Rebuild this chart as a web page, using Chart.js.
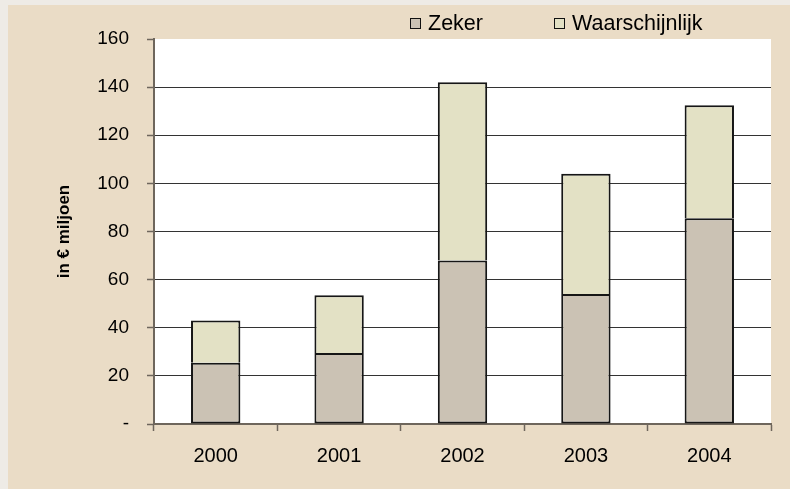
<!DOCTYPE html>
<html>
<head>
<meta charset="utf-8">
<script src="https://cdn.jsdelivr.net/npm/chart.js@4.4.1/dist/chart.umd.min.js"></script>
<style>
  body { margin: 0; background: #eeebe6; font-family: "Liberation Sans", Arial, sans-serif; }
  #wrap { position: absolute; left: 8px; top: 5px; width: 782px; height: 484px; background: #eadcc6; }
  #legend { position: absolute; left: 402px; top: 6px; display: flex; align-items: center; font-size: 21.5px; color: #000; }
  .item { display: flex; align-items: center; margin-right: 71px; }
  .box { width: 9px; height: 9px; border: 1.5px solid #111; margin-right: 7px; }
</style>
</head>
<body>
<div id="wrap">
  <canvas id="myChart" width="782" height="484"></canvas>
  <div id="legend"></div>
</div>
<script>
const years = ["2000", "2001", "2002", "2003", "2004"];
const zeker = [25.5, 29.5, 68, 54, 85.5];
const waarschijnlijk = [17.5, 24, 74, 50, 47];
const yTicks = [0, 20, 40, 60, 80, 100, 120, 140, 160];

const axisColor = "#6e665c";

const plotBackground = {
  id: "plotBackground",
  beforeDraw(chart) {
    const { ctx, chartArea } = chart;
    ctx.save();
    ctx.fillStyle = "#ffffff";
    ctx.fillRect(chartArea.left, chartArea.top, chartArea.right - chartArea.left, chartArea.bottom - chartArea.top);
    ctx.restore();
  },
};

const ctx = document.getElementById("myChart");

const chart = new Chart(ctx, {
  type: "bar",
  data: {
    labels: years,
    datasets: [
      {
        label: "Zeker",
        data: zeker,
        backgroundColor: "#cbc2b4",
        borderColor: "#161616",
        borderWidth: 2,
        borderSkipped: false,
      },
      {
        label: "Waarschijnlijk",
        data: waarschijnlijk,
        backgroundColor: "#e3e1c5",
        borderColor: "#161616",
        borderWidth: 2,
        borderSkipped: "start",
      },
    ],
  },
  options: {
    responsive: false,
    animation: false,
    events: [],
    barPercentage: 0.4,
    categoryPercentage: 1.0,
    layout: {
      padding: { top: 34, right: 19, bottom: 8, left: 0 },
    },
    plugins: {
      legend: { display: false },
      tooltip: { enabled: false },
    },
    scales: {
      x: {
        stacked: true,
        offset: true,
        grid: {
          offset: true,
          drawOnChartArea: false,
          tickLength: 7,
          tickColor: axisColor,
          tickWidth: 1.5,
        },
        border: { color: axisColor, width: 2 },
        ticks: {
          color: "#000",
          padding: 13,
          font: { family: "'Liberation Sans', Arial", size: 20 },
        },
      },
      y: {
        stacked: true,
        min: 0,
        max: 160,
        afterBuildTicks: (scale) => {
          scale.ticks = yTicks.map((v) => ({ value: v }));
        },
        afterFit: (scale) => {
          scale.width = 146;
        },
        grid: {
          color: (c) => (c.tick && (c.tick.value === 0 || c.tick.value === 160) ? "rgba(0,0,0,0)" : "#333333"),
          lineWidth: 1,
          tickLength: 7,
          tickColor: axisColor,
          tickWidth: 1.5,
        },
        border: { color: axisColor, width: 2 },
        ticks: {
          color: "#000",
          padding: 18,
          font: { family: "'Liberation Sans', Arial", size: 19 },
          callback: (v) => (v === 0 ? "-" : v),
        },
        title: {
          display: true,
          text: "in € miljoen",
          color: "#000",
          padding: { top: 46, bottom: 0 },
          font: { family: "'Liberation Sans', Arial", size: 17, weight: "bold" },
        },
      },
    },
  },
  plugins: [plotBackground],
});

// legend from the datasets
const legend = document.getElementById("legend");
chart.data.datasets.forEach((ds) => {
  const item = document.createElement("div");
  item.className = "item";
  const box = document.createElement("span");
  box.className = "box";
  box.style.background = ds.backgroundColor;
  const txt = document.createElement("span");
  txt.textContent = ds.label;
  item.appendChild(box);
  item.appendChild(txt);
  legend.appendChild(item);
});
</script>
</body>
</html>
